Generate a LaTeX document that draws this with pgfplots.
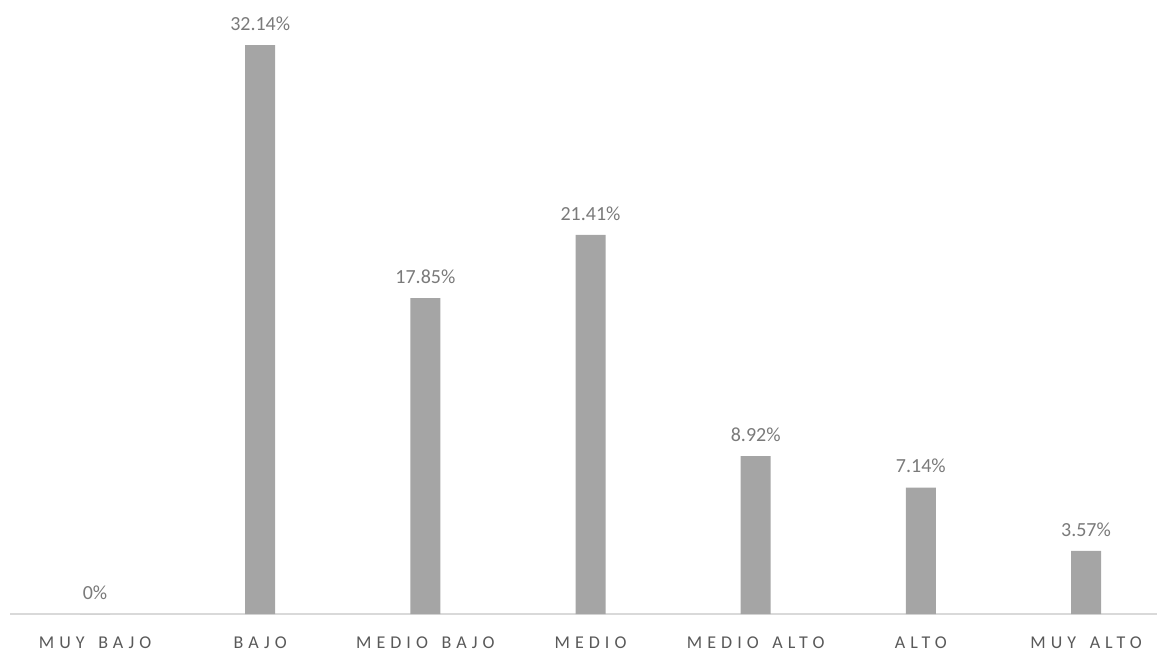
\documentclass[border=0pt]{standalone}
\usepackage{pgfplots}
\pgfplotsset{compat=1.18}
\usepackage{fontspec}
\setmainfont{Carlito}
\newfontfamily\spaced[LetterSpace=28,WordSpace=1.5]{Carlito}
\definecolor{barc}{HTML}{A5A5A5}
\definecolor{axc}{HTML}{D9D9D9}
\definecolor{txtc}{HTML}{595959}
\definecolor{valc}{HTML}{7A7A7A}
\begin{document}
\begin{tikzpicture}[x=1pt,y=1pt]
\useasboundingbox (0,0) rectangle (1157,654);
\begin{axis}[
  at={(10pt,40pt)}, anchor=south west,
  scale only axis,
  width=1147pt, height=601.9pt,
  xmin=-0.515, xmax=6.43,
  ymin=0, ymax=34,
  axis x line=bottom, axis y line=none,
  x axis line style={draw=axc, line width=1.5pt, -},
  major tick length=0pt,
  ytick=\empty,
  ybar, bar width=30pt,
  xtick=data,
  xticklabels={MUY BAJO, BAJO, MEDIO BAJO, MEDIO, MEDIO ALTO, ALTO, MUY ALTO},
  xticklabel style={text=txtc, font=\spaced\fontsize{18}{20}\selectfont, anchor=center, yshift=-29pt, inner sep=0pt},
  clip=false,
  nodes near coords,
  point meta=explicit symbolic,
  every node near coord/.append style={font=\fontsize{20}{22}\selectfont, text=valc, anchor=south, yshift=11pt},
]
\addplot[fill=barc, draw=none] coordinates {
(0,0) [0\%]
(1,32.14) [32.14\%]
(2,17.85) [17.85\%]
(3,21.41) [21.41\%]
(4,8.92) [8.92\%]
(5,7.14) [7.14\%]
(6,3.57) [3.57\%]
};
\end{axis}
\end{tikzpicture}
\end{document}
